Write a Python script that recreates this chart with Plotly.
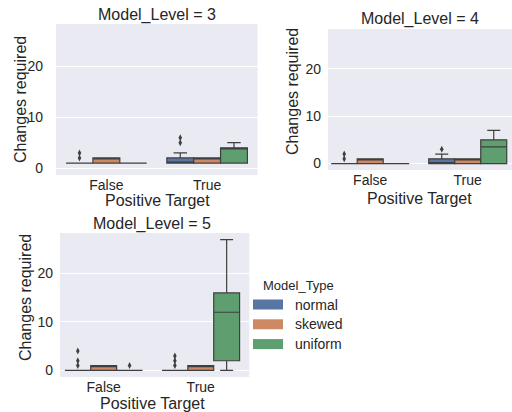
import plotly.graph_objects as go

# ---------------- data ----------------
levels = [3, 4, 5]
categories = ["False", "True"]
model_types = ["normal", "skewed", "uniform"]
type_colors = ["#5975a4", "#cc8963", "#5f9e6e"]

# per level -> per category -> per model type
q1 = [
    [[1, 1, 1], [1, 1, 1]],
    [[0, 0, 0], [0, 0, 0]],
    [[0, 0, 0], [0, 0, 2]],
]
median = [
    [[1, 2, 1], [1, 2, 4]],
    [[0, 1, 0], [0, 1, 3.5]],
    [[0, 1, 0], [0, 1, 12]],
]
q3 = [
    [[1, 2, 1], [2, 2, 4]],
    [[0, 1, 0], [1, 1, 5]],
    [[0, 1, 0], [0, 1, 16]],
]
lower_whisker = [
    [[1, 1, 1], [1, 1, 1]],
    [[0, 0, 0], [0, 0, 0]],
    [[0, 0, 0], [0, 0, 0]],
]
upper_whisker = [
    [[1, 2, 1], [3, 2, 5]],
    [[0, 1, 0], [2, 1, 7]],
    [[0, 1, 0], [0, 1, 27]],
]
outliers = [
    [[[2, 3], [], []], [[5, 6], [], []]],
    [[[1, 2], [], []], [[3], [], []]],
    [[[1, 2, 4], [], [1]], [[1, 2, 3], [], []]],
]
y_ticks = [0, 10, 20]

# ---------------- layout helpers ----------------
W, H = 512, 412
def px(x):
    return x / W
def py(y):
    return 1 - y / H

TEXT = "#262626"
FONT = "Liberation Sans, Arial, sans-serif"
EDGE = "#3f3f3f"

# panel placement (pixels): x0, x1, y_top, y_bottom, x range
panels = [
    dict(x0=56, x1=257.5, yt=24, yb=175, xr=[-0.5, 1.5], stand=12,
         title=(157, 15), ylab=(20, 100), xlab=(157, 200)),
    dict(x0=328, x1=512, yt=29, yb=170, xr=[-0.433, 1.454], stand=6,
         title=(420, 19), ylab=(292, 92), xlab=(419, 198)),
    dict(x0=60, x1=249.3, yt=233, yb=377, xr=[-0.45, 1.5], stand=6,
         title=(152, 224), ylab=(25, 298), xlab=(152, 403)),
]

fig = go.Figure()
box_w = 0.8 / len(model_types)

for p, lvl in enumerate(levels):
    sfx = "" if p == 0 else str(p + 1)
    xa, ya = "x" + sfx, "y" + sfx
    for c, cat in enumerate(categories):
        for m, mt in enumerate(model_types):
            pos = c + (m - (len(model_types) - 1) / 2) * box_w
            fig.add_trace(go.Box(
                x=[pos], q1=[q1[p][c][m]], median=[median[p][c][m]], q3=[q3[p][c][m]],
                lowerfence=[lower_whisker[p][c][m]], upperfence=[upper_whisker[p][c][m]],
                width=box_w, fillcolor=type_colors[m],
                line=dict(color=EDGE, width=1.2), whiskerwidth=0.5,
                boxpoints=False, showlegend=False, hoverinfo="skip",
                xaxis=xa, yaxis=ya,
            ))
            outs = outliers[p][c][m]
            if outs:
                fig.add_trace(go.Scatter(
                    x=[pos] * len(outs), y=outs, mode="markers",
                    marker=dict(symbol="diamond-tall", size=5, color=EDGE),
                    showlegend=False, hoverinfo="skip", xaxis=xa, yaxis=ya,
                ))

layout = dict(
    width=W, height=H, margin=dict(l=0, r=0, t=0, b=0),
    paper_bgcolor="white", plot_bgcolor="#eaeaf2",
    boxmode="overlay", showlegend=False,
    font=dict(family=FONT, color=TEXT, size=14),
)
annotations = []
for p, lvl in enumerate(levels):
    pn = panels[p]
    sfx = "" if p == 0 else str(p + 1)
    layout["xaxis" + sfx] = dict(
        domain=[px(pn["x0"]), px(pn["x1"])], range=pn["xr"], anchor="y" + sfx,
        tickvals=list(range(len(categories))), ticktext=categories,
        showgrid=False, zeroline=False, showline=False, ticks="",
        tickfont=dict(size=14, color=TEXT), ticklabelstandoff=0,
    )
    layout["yaxis" + sfx] = dict(
        domain=[py(pn["yb"]), py(pn["yt"])], range=[-1.35, 28.35], anchor="x" + sfx,
        tickvals=y_ticks, showgrid=True, gridcolor="white", gridwidth=1,
        zeroline=False, showline=False, ticks="",
        tickfont=dict(size=14, color=TEXT), ticklabelstandoff=pn["stand"],
    )
    annotations.append(dict(text=f"Model_Level = {lvl}", x=px(pn["title"][0]), y=py(pn["title"][1]),
                            xref="paper", yref="paper", showarrow=False,
                            xanchor="center", yanchor="middle", font=dict(size=16, color=TEXT)))
    annotations.append(dict(text="Changes required", x=px(pn["ylab"][0]), y=py(pn["ylab"][1]),
                            xref="paper", yref="paper", showarrow=False, textangle=-90,
                            xanchor="center", yanchor="middle", font=dict(size=16, color=TEXT)))
    annotations.append(dict(text="Positive Target", x=px(pn["xlab"][0]), y=py(pn["xlab"][1]),
                            xref="paper", yref="paper", showarrow=False,
                            xanchor="center", yanchor="middle", font=dict(size=16, color=TEXT)))

# legend (drawn manually)
shapes = []
annotations.append(dict(text="Model_Type", x=px(298), y=py(285), xref="paper", yref="paper",
                        showarrow=False, xanchor="center", yanchor="middle",
                        font=dict(size=13, color=TEXT)))
for m, mt in enumerate(model_types):
    yc = 304.5 + m * 19.8
    shapes.append(dict(type="rect", xref="paper", yref="paper",
                       x0=px(253), x1=px(283), y0=py(yc + 5), y1=py(yc - 5),
                       fillcolor=type_colors[m], line=dict(width=0)))
    annotations.append(dict(text=mt, x=px(293), y=py(yc), xref="paper", yref="paper",
                            showarrow=False, xanchor="left", yanchor="middle",
                            font=dict(size=14, color=TEXT)))

layout["annotations"] = annotations
layout["shapes"] = shapes
fig.update_layout(**layout)
fig.write_html("out.html", config={"displayModeBar": False},
               post_script="document.body.style.margin='0';document.body.style.overflow='hidden';")
